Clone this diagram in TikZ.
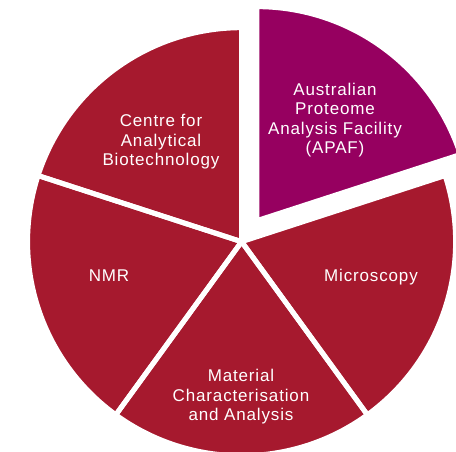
\documentclass[tikz,border=0pt]{standalone}
\usepackage{fontspec}
\setmainfont{Liberation Sans}[LetterSpace=5]
\usetikzlibrary{calc}
\definecolor{mqred}{HTML}{A6192E}
\definecolor{mqpurple}{HTML}{960060}
\begin{document}
\begin{tikzpicture}[x=1pt,y=1pt,
  lbl/.style={text=white, align=center, font=\fontsize{17}{19.5}\selectfont, inner sep=0pt},
  gap/.style={draw=white, line width=5pt, line join=round}]
\useasboundingbox (0,0) rectangle (456,452);
\def\R{214}
\coordinate (C) at (241.6,210.3);
\coordinate (P) at ($(C)+(54:26)$);
% fills
\foreach \a/\col in {90/mqred,162/mqred,234/mqred,306/mqred}{
  \fill[\col] (C) -- ++(\a:\R) arc[start angle=\a, end angle=\a+72, radius=\R] -- cycle;
}
\fill[mqpurple] (P) -- ++(18:\R) arc[start angle=18, end angle=90, radius=\R] -- cycle;
% white gaps
\foreach \a in {90,162,234,306}{
  \draw[gap] (C) -- ++(\a:\R) arc[start angle=\a, end angle=\a+72, radius=\R] -- cycle;
}
\draw[gap] (P) -- ++(18:\R) arc[start angle=18, end angle=90, radius=\R] -- cycle;
% labels
\node[lbl] (apaf) at (335,332) {Australian\\Proteome\\Analysis Facility\\(APAF)};
\node[lbl] (cab) at (161,310) {Centre for\\Analytical\\Biotechnology};
\node[lbl] (nmr) at (109,176) {NMR};
\node[lbl] (mic) at (371,175) {Microscopy};
\node[lbl] (mca) at (241,55) {Material\\Characterisation\\and Analysis};
\end{tikzpicture}
\end{document}
